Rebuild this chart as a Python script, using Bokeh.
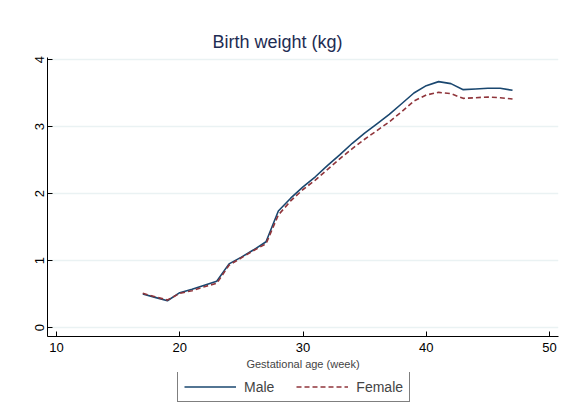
from bokeh.plotting import figure
from bokeh.layouts import column
from bokeh.models import Range1d, Legend, LegendItem, FixedTicker
from bokeh.embed import file_html
from bokeh.resources import INLINE

weeks = list(range(17, 48))
male = [0.50, 0.45, 0.40, 0.52, 0.57, 0.63, 0.69, 0.95, 1.05, 1.16, 1.28, 1.74, 1.93, 2.10, 2.25,
        2.42, 2.58, 2.75, 2.90, 3.04, 3.18, 3.34, 3.50, 3.61, 3.67, 3.64, 3.55, 3.56, 3.57, 3.57, 3.54]
female = [0.51, 0.46, 0.41, 0.51, 0.55, 0.61, 0.66, 0.93, 1.04, 1.15, 1.25, 1.68, 1.89, 2.06, 2.20,
          2.36, 2.52, 2.67, 2.81, 2.94, 3.07, 3.22, 3.38, 3.47, 3.51, 3.49, 3.42, 3.43, 3.44, 3.43, 3.41]
x_ticks = [10, 20, 30, 40, 50]
y_ticks = [0, 1, 2, 3, 4]
series_names = ["Male", "Female"]
MALE_C, FEMALE_C = "#1a476f", "#90353b"

p = figure(width=560, height=372, output_backend="svg", toolbar_location=None,
           x_range=Range1d(9.27, 50.73), y_range=Range1d(-0.134, 4.03),
           min_border_left=47, min_border_right=2, min_border_top=57, min_border_bottom=36)
p.outline_line_color = None
p.background_fill_color = "white"
p.border_fill_color = "white"

p.title.text = "Birth weight (kg)"
p.title.text_font = "Liberation Sans"
p.title.text_font_size = "18px"
p.title.text_font_style = "normal"
p.title.text_color = "#1e2c53"
p.title.align = "left"
p.title.offset = 165
p.title.standoff = 11

p.line(weeks, male, line_color=MALE_C, line_width=1.6)
p.line(weeks, female, line_color=FEMALE_C, line_width=1.6, line_dash="5 3")

for ax in (p.xaxis[0], p.yaxis[0]):
    ax.axis_line_color = "black"
    ax.axis_line_width = 1
    ax.major_tick_in = 5
    ax.major_tick_out = 0
    ax.minor_tick_line_color = None
    ax.major_tick_line_color = "black"
    ax.major_label_text_font = "Liberation Sans"
    ax.major_label_text_font_size = "13px"
    ax.major_label_text_color = "black"

p.xaxis.ticker = FixedTicker(ticks=x_ticks)
p.yaxis.ticker = FixedTicker(ticks=y_ticks)
p.yaxis.major_label_orientation = "vertical"
p.yaxis.major_label_standoff = 3
p.xaxis.major_label_standoff = 6
p.xaxis.axis_label = "Gestational age (week)"
p.xaxis.axis_label_text_font = "Liberation Sans"
p.xaxis.axis_label_text_font_size = "11px"
p.xaxis.axis_label_text_font_style = "normal"
p.xaxis.axis_label_standoff = 3

p.xgrid.grid_line_color = None
p.ygrid.grid_line_color = "#eaf2f3"
p.ygrid.grid_line_width = 1.5

# legend strip (its lines lie outside its ranges, only the legend keys show)
lg = figure(width=560, height=40, output_backend="svg", toolbar_location=None,
            x_range=Range1d(0, 1), y_range=Range1d(0, 1),
            x_axis_location=None, y_axis_location=None,
            min_border_left=0, min_border_right=0, min_border_top=0, min_border_bottom=0)
lg.grid.visible = False
lg.outline_line_color = None
lg.border_fill_color = "white"
lg.background_fill_color = "white"
ml = lg.line([5, 6], [5, 6], line_color=MALE_C, line_width=1.6)
fl = lg.line([5, 6], [5, 6], line_color=FEMALE_C, line_width=1.6, line_dash="5 3")
legend = Legend(items=[LegendItem(label=series_names[0], renderers=[ml]),
                       LegendItem(label=series_names[1], renderers=[fl])],
                orientation="horizontal", location=(130, 10),
                border_line_color="black", border_line_width=1,
                background_fill_color="white", background_fill_alpha=1,
                label_text_font="Liberation Sans", label_text_font_size="14px",
                glyph_width=52, label_standoff=8, spacing=22,
                padding=6, margin=0, label_height=17, glyph_height=17)
lg.add_layout(legend, "center")

layout = column(p, lg, spacing=0)
open("out.html", "w").write(file_html(layout, INLINE))
